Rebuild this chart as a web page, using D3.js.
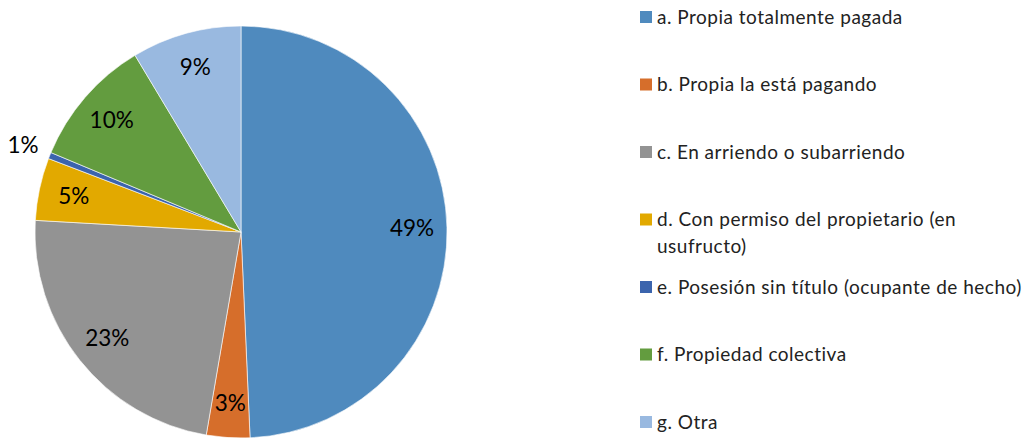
<!DOCTYPE html>
<html>
<head>
<meta charset="utf-8">
<script src="https://cdn.jsdelivr.net/npm/d3@7"></script>
<style>
  body { margin: 0; background: #fff; }
  svg { display: block; font-family: Lato, "Open Sans", sans-serif; }
</style>
</head>
<body>
<div id="chart"></div>
<script>
// tenencia de la vivienda
var categories = [
  "a. Propia totalmente pagada",
  "b. Propia la está pagando",
  "c. En arriendo o subarriendo",
  "d. Con permiso del propietario (en usufructo)",
  "e. Posesión sin título (ocupante de hecho)",
  "f. Propiedad colectiva",
  "g. Otra"
];
var values = [49.3, 3.4, 23.2, 4.9, 0.5, 10.1, 8.6];
var pctLabels = ["49%", "3%", "23%", "5%", "1%", "10%", "9%"];
var colors = ["#4f8abe", "#d66e2b", "#939393", "#e2a900", "#3b64ad", "#639c3f", "#99b9e0"];
// legend lines (d wraps onto two lines)
var legendLines = [
  ["a. Propia totalmente pagada"],
  ["b. Propia la está pagando"],
  ["c. En arriendo o subarriendo"],
  ["d. Con permiso del propietario (en", "usufructo)"],
  ["e. Posesión sin título (ocupante de hecho)"],
  ["f. Propiedad colectiva"],
  ["g. Otra"]
];

var width = 1026, height = 440;
var cx = 241, cy = 232, radius = 206;

var svg = d3.select("#chart").append("svg")
  .attr("width", width)
  .attr("height", height);

var pie = d3.pie().sort(null).value(function(d) { return d; });
var arcs = pie(values);

var arc = d3.arc().innerRadius(0).outerRadius(radius);
var labelArc = d3.arc().innerRadius(radius * 0.83).outerRadius(radius * 0.83);
var outerArc = d3.arc().innerRadius(radius * 1.14).outerRadius(radius * 1.14);

var g = svg.append("g").attr("transform", "translate(" + cx + "," + cy + ")");

g.selectAll("path")
  .data(arcs)
  .enter()
  .append("path")
  .attr("d", arc)
  .attr("fill", function(d, i) { return colors[i]; })
  .attr("stroke", "#fff")
  .attr("stroke-width", 0.6);

// small slices get their label outside the pie
g.selectAll("text.pct")
  .data(arcs)
  .enter()
  .append("text")
  .attr("class", "pct")
  .attr("transform", function(d) {
    var a = d.value < 1.5 ? outerArc : labelArc;
    return "translate(" + a.centroid(d) + ")";
  })
  .attr("text-anchor", "middle")
  .attr("dy", "0.35em")
  .style("font-size", "22.5px")
  .style("fill", "#000")
  .text(function(d, i) { return pctLabels[i]; });

// legend
var legendY = d3.scaleLinear().domain([0, 6]).range([17, 422]);
var legendX = 640, boxSize = 12;

var items = svg.selectAll("g.legend")
  .data(categories)
  .enter()
  .append("g")
  .attr("class", "legend")
  .attr("transform", function(d, i) { return "translate(" + legendX + "," + legendY(i) + ")"; });

items.append("rect")
  .attr("x", 0)
  .attr("y", -boxSize / 2)
  .attr("width", boxSize)
  .attr("height", boxSize)
  .attr("fill", function(d, i) { return colors[i]; });

items.append("text")
  .attr("x", 17)
  .style("font-size", "19px")
  .style("letter-spacing", "0.5px")
  .style("fill", "#222")
  .each(function(d, i) {
    var t = d3.select(this);
    legendLines[i].forEach(function(line, j) {
      t.append("tspan")
        .attr("x", 17)
        .attr("y", j * 27)
        .attr("dy", "0.35em")
        .text(line);
    });
  });
</script>
</body>
</html>
